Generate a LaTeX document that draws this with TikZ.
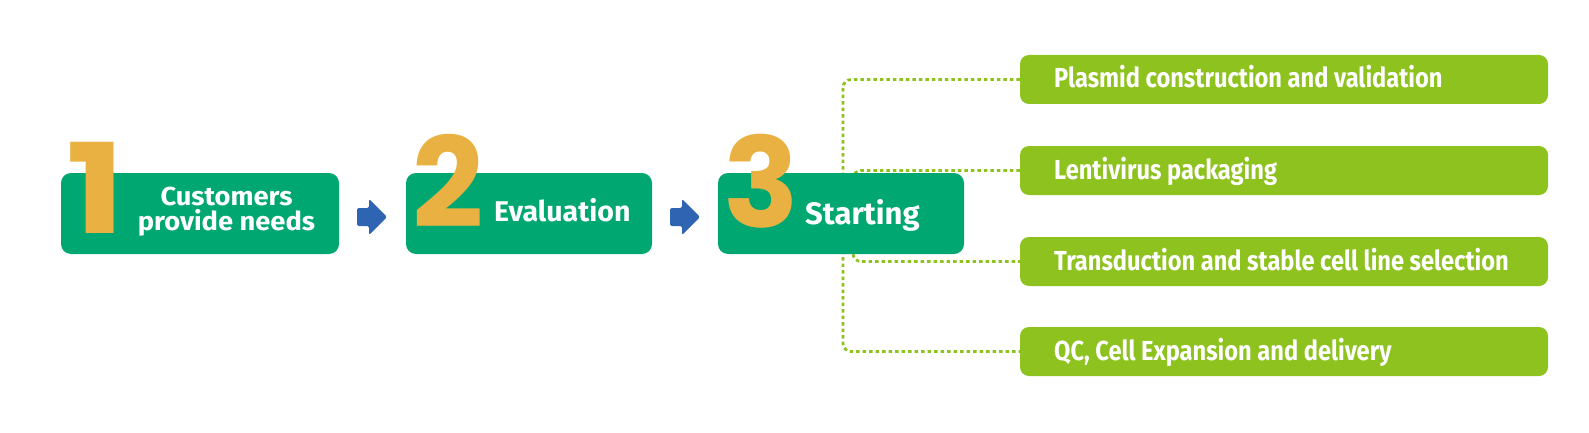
\documentclass[tikz,border=0pt]{standalone}
\usepackage{fontspec}
\setmainfont{Fira Sans}
\newfontfamily\taskfont{Fira Sans}[FakeStretch=0.86]
\newfontfamily\widefont{Fira Sans}[FakeStretch=1.05]
\newfontfamily\digitfont{Poppins}
\usetikzlibrary{positioning,backgrounds}

\definecolor{boxgreen}{HTML}{00A771}
\definecolor{taskgreen}{HTML}{8DC21F}
\definecolor{numyellow}{HTML}{E9B142}
\definecolor{arrowblue}{HTML}{2E64B1}

\tikzset{
  stepbox/.style={fill=boxgreen, rounded corners=10pt, minimum height=81pt, inner sep=0pt},
  taskbox/.style={fill=taskgreen, rounded corners=9pt, minimum width=528pt, minimum height=49pt, inner sep=0pt},
  bignum/.style={text=numyellow, font=\digitfont\bfseries\fontsize{125pt}{125pt}\selectfont, anchor=base west, inner sep=0pt},
  steplabel/.style={text=white, font=\bfseries\fontsize{#1}{#1}\selectfont, inner sep=0pt},
  widelabel/.style={text=white, font=\widefont\bfseries\fontsize{26pt}{26pt}\selectfont, anchor=base, inner sep=0pt},
  tasklabel/.style={text=white, font=\taskfont\bfseries\fontsize{27.5pt}{27.5pt}\selectfont, anchor=base west, inner sep=0pt},
  dotline/.style={taskgreen, line width=2.8pt, dash pattern=on 3.5pt off 3pt, rounded corners=8pt}
}

\begin{document}
\begin{tikzpicture}[x=1pt, y=-1pt]
\useasboundingbox (0,0) rectangle (1589,433);

% Main steps
\node[stepbox, minimum width=278pt] (needs) at (200,213.5) {};
\node[stepbox, minimum width=246pt] (eval)  at (529,213.5) {};
\node[stepbox, minimum width=246pt] (start) at (841,213.5) {};

% Step numbers
\node[bignum] (num1) at (66,233) {\scalebox{1.25}[1]{1}};
\node[bignum] (num2) at (412,227) {2};
\node[bignum] (num3) at (723,227) {3};

% Step texts
\node[widelabel] (needsA) at (226.5,205.5) {Customers};
\node[widelabel] (needsB) at (226.5,230.5) {provide needs};
\node[steplabel=28.5pt, anchor=base west] (evaltxt) at (494,221) {Evaluation};
\node[steplabel=31pt, anchor=base west] (starttxt) at (805,224) {Starting};

% Arrows between steps
\foreach \ax in {357,670}
  \fill[arrowblue, rounded corners=2pt] (\ax,208) -- (\ax+12,208) -- (\ax+12,199) -- (\ax+30,217)
    -- (\ax+12,235) -- (\ax+12,226) -- (\ax,226) -- cycle;

% Tasks
\node[taskbox] (plasmid) at (1284,79.5)  {};
\node[taskbox] (lenti)   at (1284,170.5) {};
\node[taskbox] (transd)  at (1284,261.5) {};
\node[taskbox] (qc)      at (1284,351.5) {};

\node[tasklabel] at (1054,88)  {Plasmid construction and validation};
\node[tasklabel] at (1054,179) {Lentivirus packaging};
\node[tasklabel] at (1054,270) {Transduction and stable cell line selection};
\node[tasklabel] at (1054,360) {QC, Cell Expansion and delivery};

% Dotted links behind the start box
\coordinate (outer) at (843,0);
\coordinate (inner) at (853,0);
\begin{scope}[on background layer]
\draw[dotline] (plasmid.west) -| (outer |- start) |- (qc.west);
\draw[dotline] (lenti.west) -| (inner |- start) |- (transd.west);
\end{scope}
\end{tikzpicture}
\end{document}
